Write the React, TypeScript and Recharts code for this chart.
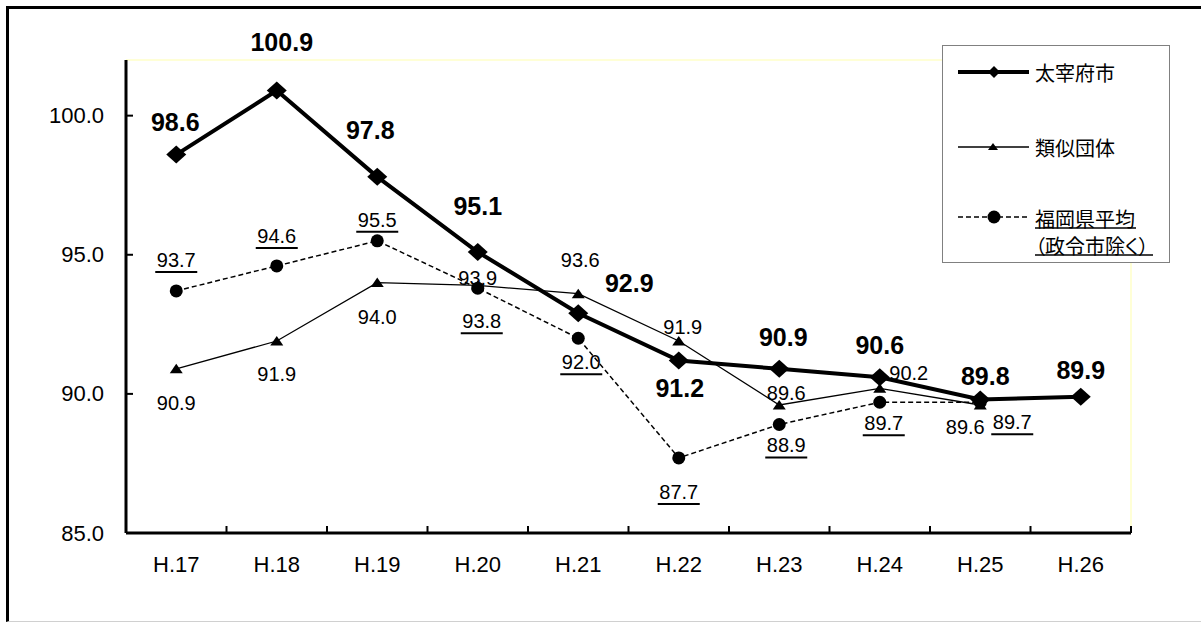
import { LineChart, Line, XAxis, YAxis, LabelList } from 'recharts';

// Fiscal years (Heisei)
const years = ['H.17', 'H.18', 'H.19', 'H.20', 'H.21', 'H.22', 'H.23', 'H.24', 'H.25', 'H.26'];

// 太宰府市
const dazaifu = [98.6, 100.9, 97.8, 95.1, 92.9, 91.2, 90.9, 90.6, 89.8, 89.9];
// 類似団体
const similar = [90.9, 91.9, 94.0, 93.9, 93.6, 91.9, 89.6, 90.2, 89.6, null];
// 福岡県平均（政令市除く）
const fukuoka = [93.7, 94.6, 95.5, 93.8, 92.0, 87.7, 88.9, 89.7, 89.7, null];

const yTicks = [85, 90, 95, 100];
const yDomain: [number, number] = [85, 102];

// label placement relative to each point [dx, dy]
const dazaifuLabelPos = [[-1, -33], [5, -49], [-7, -47], [0, -46], [51, -30], [1, 28], [4, -32], [0, -32], [5, -23], [0, -27]];
const similarLabelPos = [[0, 34], [0, 33], [0, 34], [0, -7], [2, -34], [4, -14], [7, -12], [29, -15], [-15, 22], [0, 0]];
const fukuokaLabelPos = [[0, -31], [0, -30], [0, -21], [4, 33], [3, 24], [0, 34], [7, 21], [4, 21], [32, 20], [0, 0]];

const data = years.map((year, i) => ({
  year,
  dazaifu: dazaifu[i],
  similar: similar[i],
  fukuoka: fukuoka[i],
}));

const W = 1201;
const H = 623;
const PLOT_LEFT = 126;
const PLOT_RIGHT = 1131;
const PLOT_TOP = 60;
const PLOT_BOTTOM = 533;
const BAND = (PLOT_RIGHT - PLOT_LEFT) / years.length;

const NUM_FONT = '"Liberation Sans", Arial, sans-serif';
const JP_FONT = '"Noto Sans CJK JP", sans-serif';

function YTick({ x, y, payload }: any) {
  return (
    <g>
      <line x1={x} x2={x + 7} y1={y} y2={y} stroke="#000" strokeWidth={2} />
      <text x={x - 22} y={y} textAnchor="end" dominantBaseline="central" fontSize={22} fontFamily={NUM_FONT} fill="#000">
        {Number(payload.value).toFixed(1)}
      </text>
    </g>
  );
}

function XTick({ x, y, payload }: any) {
  const bx = x + BAND / 2;
  return (
    <g>
      <line x1={bx} x2={bx} y1={y} y2={y - 7} stroke="#000" strokeWidth={2} />
      <text x={x} y={y + 31} textAnchor="middle" dominantBaseline="central" fontSize={22} fontFamily={NUM_FONT} fill="#000">
        {payload.value}
      </text>
    </g>
  );
}

function DiamondDot({ cx, cy, index, value }: any) {
  if (cx == null || cy == null || value == null) return <g key={`d-${index}`} />;
  return <polygon key={`d-${index}`} points={`${cx},${cy - 9} ${cx + 10},${cy} ${cx},${cy + 9} ${cx - 10},${cy}`} fill="#000" />;
}

function TriangleDot({ cx, cy, index, value }: any) {
  if (cx == null || cy == null || value == null) return <g key={`t-${index}`} />;
  return <polygon key={`t-${index}`} points={`${cx},${cy - 5} ${cx + 6.5},${cy + 4.5} ${cx - 6.5},${cy + 4.5}`} fill="#000" />;
}

function CircleDot({ cx, cy, index, value }: any) {
  if (cx == null || cy == null || value == null) return <g key={`c-${index}`} />;
  return <circle key={`c-${index}`} cx={cx} cy={cy} r={6.5} fill="#000" />;
}

function makeLabel(pos: number[][], kind: 'bold' | 'plain' | 'underline') {
  return (props: any) => {
    const { value, index } = props;
    if (value == null) return null;
    const px = props.viewBox?.x ?? props.x;
    const py = props.viewBox?.y ?? props.y;
    if (px == null || py == null) return null;
    const [dx, dy] = pos[index] || [0, 0];
    const lx = px + dx;
    const ly = py + dy;
    const text = Number(value).toFixed(1);
    const size = kind === 'bold' ? 25 : 20;
    return (
      <g key={`lbl-${kind}-${index}`}>
        <text
          x={lx}
          y={ly}
          textAnchor="middle"
          dominantBaseline="central"
          fontSize={size}
          fontWeight={kind === 'bold' ? 700 : 400}
          fontFamily={NUM_FONT}
          fill="#000"
        >
          {text}
        </text>
        {kind === 'underline' && (
          <line x1={lx - 21} x2={lx + 21} y1={ly + 12} y2={ly + 12} stroke="#000" strokeWidth={2} />
        )}
      </g>
    );
  };
}

function ChartLegend() {
  return (
    <div
      style={{
        position: 'absolute',
        left: 942,
        top: 45,
        width: 228,
        height: 218,
        border: '1px solid #808080',
        boxSizing: 'border-box',
        background: '#fff',
      }}
    >
      <svg width={228} height={218} style={{ position: 'absolute', left: -1, top: -1 }}>
        <line x1={16} x2={87} y1={27} y2={27} stroke="#000" strokeWidth={4} />
        <polygon points="52,21 58,27 52,33 46,27" fill="#000" />
        <text x={93} y={27} dominantBaseline="central" fontSize={20} fontFamily={JP_FONT} fill="#000">
          太宰府市
        </text>

        <line x1={16} x2={87} y1={102} y2={102} stroke="#000" strokeWidth={1.3} />
        <polygon points="51,98 56,105 46,105" fill="#000" />
        <text x={93} y={102} dominantBaseline="central" fontSize={20} fontFamily={JP_FONT} fill="#000">
          類似団体
        </text>

        <line x1={16} x2={87} y1={172} y2={172} stroke="#000" strokeWidth={1.5} strokeDasharray="5 3" />
        <circle cx={52} cy={172} r={6.5} fill="#000" />
        <text x={93} y={173} dominantBaseline="central" fontSize={20} fontFamily={JP_FONT} fill="#000">
          福岡県平均
        </text>
        <line x1={93} x2={194} y1={183} y2={183} stroke="#000" strokeWidth={1.5} />
        <text
          x={93}
          y={200}
          dominantBaseline="central"
          fontSize={20}
          fontFamily={JP_FONT}
          fill="#000"
          style={{ fontFeatureSettings: '"palt"' }}
        >
          （政令市除く）
        </text>
        <line x1={93} x2={211} y1={210} y2={210} stroke="#000" strokeWidth={1.5} />
      </svg>
    </div>
  );
}

export default function App() {
  return (
    <div style={{ position: 'absolute', left: 0, top: 0, width: W, height: H, overflow: 'hidden', background: '#fff' }}>
      <div
        style={{
          position: 'absolute',
          left: 6,
          top: 6,
          width: 1300,
          height: 616,
          borderTop: '3px solid #000',
          borderLeft: '3px solid #000',
          borderBottom: '1px solid #d0d0d0',
          boxSizing: 'border-box',
        }}
      />
      <div style={{ position: 'absolute', left: 0, top: 0 }}>
        <LineChart width={W} height={H} data={data} margin={{ top: 0, right: 0, bottom: 0, left: 0 }}>
          <XAxis
            xAxisId="top"
            orientation="top"
            dataKey="year"
            height={PLOT_TOP}
            padding={{ left: BAND / 2, right: BAND / 2 }}
            tick={false}
            tickLine={false}
            axisLine={{ stroke: '#ffffc8', strokeWidth: 1.5 }}
          />
          <XAxis
            dataKey="year"
            height={H - PLOT_BOTTOM}
            padding={{ left: BAND / 2, right: BAND / 2 }}
            tickSize={0}
            tickMargin={0}
            tickLine={false}
            interval={0}
            tick={<XTick />}
            axisLine={{ stroke: '#000', strokeWidth: 3 }}
          />
          <YAxis
            domain={yDomain}
            ticks={yTicks}
            width={PLOT_LEFT}
            tickSize={0}
            tickMargin={0}
            tickLine={false}
            tick={<YTick />}
            axisLine={{ stroke: '#000', strokeWidth: 3 }}
          />
          <YAxis
            yAxisId="right"
            orientation="right"
            domain={yDomain}
            width={W - PLOT_RIGHT}
            tick={false}
            tickLine={false}
            axisLine={{ stroke: '#ffffc8', strokeWidth: 1.5 }}
          />
          <Line
            dataKey="fukuoka"
            stroke="#000"
            strokeWidth={1.5}
            strokeDasharray="5 3"
            dot={<CircleDot />}
            activeDot={false}
            isAnimationActive={false}
          >
            <LabelList dataKey="fukuoka" content={makeLabel(fukuokaLabelPos, 'underline')} />
          </Line>
          <Line
            dataKey="similar"
            stroke="#000"
            strokeWidth={1.3}
            dot={<TriangleDot />}
            activeDot={false}
            isAnimationActive={false}
          >
            <LabelList dataKey="similar" content={makeLabel(similarLabelPos, 'plain')} />
          </Line>
          <Line
            dataKey="dazaifu"
            stroke="#000"
            strokeWidth={4}
            dot={<DiamondDot />}
            activeDot={false}
            isAnimationActive={false}
          >
            <LabelList dataKey="dazaifu" content={makeLabel(dazaifuLabelPos, 'bold')} />
          </Line>
        </LineChart>
      </div>
      <ChartLegend />
    </div>
  );
}
